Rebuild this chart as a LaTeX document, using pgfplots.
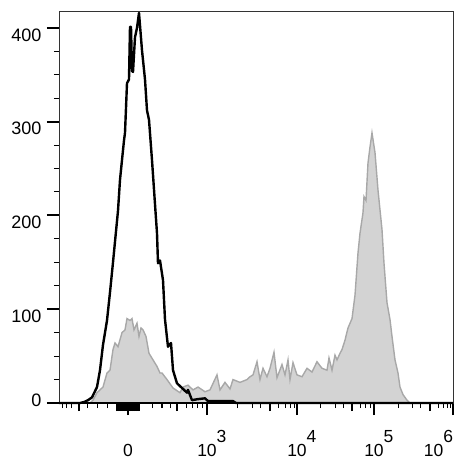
\documentclass[border=0pt]{standalone}
\usepackage{fontspec}
\setmainfont{Liberation Sans}
\usepackage{pgfplots}
\pgfplotsset{compat=1.18}
\definecolor{fillgray}{RGB}{211,211,211}
\definecolor{edgegray}{RGB}{168,168,168}
\begin{document}
\begin{tikzpicture}
\useasboundingbox (-59pt,-66pt) rectangle (403pt,403pt);
\begin{axis}[
  at={(0,0)}, anchor=south west,
  scale only axis, width=394pt, height=392pt,
  xmin=59, xmax=453, ymin=0, ymax=418,
  axis line style={line width=0.8pt, black!80},
  tick align=outside, tick pos=left,
  xtick={128,207,297,374,453},
  xticklabels={0,10\rlap{\raisebox{0.75em}{3}},10\rlap{\raisebox{0.75em}{4}},10\rlap{\raisebox{0.75em}{5}},\llap{10\raisebox{0.75em}{6}}},
  minor xtick={63,67,72,88,98,108,153,162,170,186,192,197,202,237,252,260,278,285,290,294,320,335,343,360,365,370,373,398,412,420,438,443,447,450},
  extra x ticks={79,177,270,352,430,117,119,121,123,125,127,129,131,133,135,137,139},
  extra x tick labels={},
  extra x tick style={major tick length=8pt, major tick style={line width=1.4pt, black}},
  ytick={0,100,200,300,400},
  yticklabels={\raisebox{19pt}{0},100,200,300,400},
  minor y tick num=3,
  major tick length=12pt, minor tick length=5pt,
  major tick style={line width=2pt, black},
  minor tick style={line width=1pt, black},
  xticklabel style={anchor=base, yshift=-41pt, font=\fontsize{17.5}{20}\selectfont},
  yticklabel style={anchor=east, xshift=-2pt, yshift=-7pt, font=\fontsize{18}{21}\selectfont},
  clip=false,
]
\addplot[fill=fillgray, draw=edgegray, line width=1.4pt] coordinates {
(90,0) (93,3) (97,11) (103,17) (107,32) (110,35) (113,57) (115,64) (118,60) (122,75) (125,78) (127,90) (130,88) (132,90) (134,78) (137,85) (139,71) (141,80) (143,78) (146,71) (149,53) (153,46) (157,39) (160,32) (162,32) (167,25) (173,16) (180,11) (183,17) (188,19) (193,14) (198,17) (205,12) (210,14) (217,30) (220,14) (225,22) (230,15) (233,25) (240,22) (247,25) (250,28) (253,30) (257,44) (260,25) (263,37) (267,28) (270,37) (274,54) (277,27) (282,41) (285,30) (288,46) (290,25) (293,43) (297,30) (302,28) (307,37) (312,33) (317,44) (322,37) (327,35) (329,48) (332,35) (335,51) (337,46) (340,53) (342,57) (345,67) (348,80) (352,90) (355,115) (358,160) (360,181) (363,203) (364,220) (366,216) (368,256) (370,273) (372,288) (375,267) (378,227) (382,185) (384,149) (387,107) (390,89) (392,71) (395,46) (398,32) (400,17) (403,9) (407,3) (410,0)
} \closedcycle;
\addplot[black, line width=2.4pt, line join=round] coordinates {
(59,0) (80,0) (84,1) (88,3) (92,6) (97,17) (100,35) (103,62) (107,88) (110,118) (113,150) (115,172) (118,205) (120,238) (122,259) (124,280) (125,288) (127,341) (129,345) (130,401) (131,401) (132,354) (133,353) (135,390) (137,400) (139,416) (142,376) (145,345) (147,312) (149,302) (152,259) (155,212) (157,181) (158,149) (160,152) (163,131) (165,89) (168,60) (171,64) (173,35) (177,21) (182,16) (187,11) (188,14) (192,3) (197,4) (205,5) (208,2) (220,2) (233,2) (236,0) (453,0)
};
\draw[line width=2.5pt, black] (rel axis cs:0,0) -- (rel axis cs:1,0);
\end{axis}
\end{tikzpicture}
\end{document}
